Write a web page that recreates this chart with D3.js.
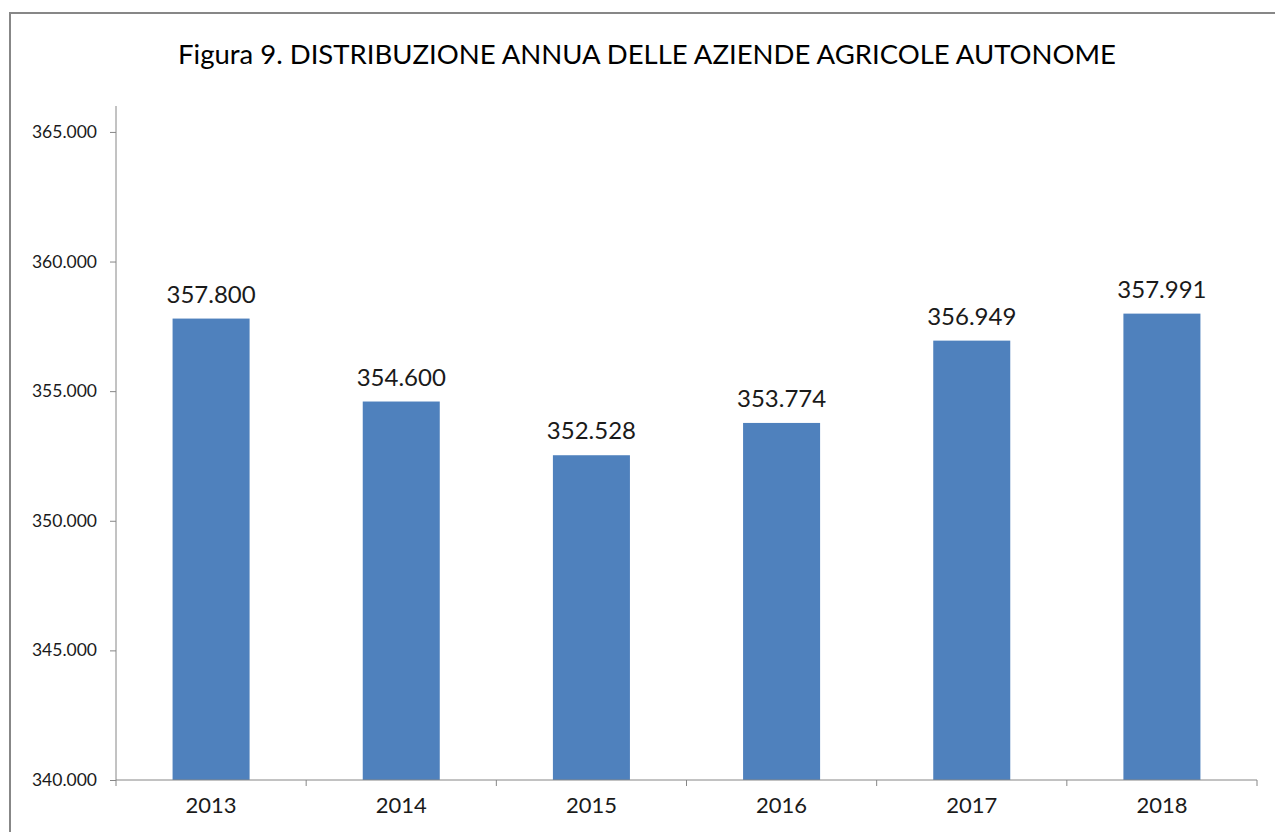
<!DOCTYPE html>
<html>
<head>
<meta charset="utf-8">
<script src="https://cdn.jsdelivr.net/npm/d3@7"></script>
<style>
  body { margin: 0; background: #fff; }
  svg { display: block; font-family: Lato, "Open Sans", sans-serif; }
</style>
</head>
<body>
<div id="vis-container"></div>
<script>
// data
var years  = ["2013", "2014", "2015", "2016", "2017", "2018"];
var values = [357800, 354600, 352528, 353774, 356949, 357991];
var yTicks = [340000, 345000, 350000, 355000, 360000, 365000];

var W = 1275, H = 832;
var margin = { top: 106, right: 18, bottom: 52, left: 116 };
var width  = W - margin.left - margin.right;
var height = H - margin.top - margin.bottom;

var fmt = function(d) { return d3.format(",.0f")(d).replace(/,/g, "."); };

var svg = d3.select("#vis-container")
  .append("svg")
    .attr("width", W)
    .attr("height", H);

// outer chart frame
svg.append("rect")
  .attr("x", 10).attr("y", 13)
  .attr("width", W + 20).attr("height", H + 20)
  .attr("fill", "none")
  .attr("stroke", "#878787")
  .attr("stroke-width", 2);

svg.append("text")
  .attr("x", 647).attr("y", 64)
  .attr("text-anchor", "middle")
  .style("font-size", "27.5px")
  .style("fill", "#000")
  .text("Figura 9. DISTRIBUZIONE ANNUA DELLE AZIENDE AGRICOLE AUTONOME");

var canvas = svg.append("g")
  .attr("transform", "translate(" + margin.left + "," + margin.top + ")");

var xScale = d3.scaleBand()
  .domain(years)
  .range([0, width])
  .paddingInner(0.595)
  .paddingOuter(0.2975);

var yScale = d3.scaleLinear()
  .domain([340000, 366000])
  .range([height, 0]);

// bars
canvas.selectAll(".bar")
  .data(values)
  .enter().append("rect")
    .attr("class", "bar")
    .attr("x", function(d, i) { return xScale(years[i]); })
    .attr("y", function(d) { return yScale(d); })
    .attr("width", xScale.bandwidth())
    .attr("height", function(d) { return height - yScale(d); })
    .style("fill", "#4F81BD");

// value labels
canvas.selectAll(".lbl")
  .data(values)
  .enter().append("text")
    .attr("class", "lbl")
    .attr("x", function(d, i) { return xScale(years[i]) + xScale.bandwidth() / 2; })
    .attr("y", function(d) { return yScale(d) - 16; })
    .attr("text-anchor", "middle")
    .style("font-size", "24px")
    .style("fill", "#1a1a1a")
    .text(fmt);

// y axis
var yAxis = d3.axisLeft(yScale)
  .tickValues(yTicks)
  .tickSize(6)
  .tickPadding(13)
  .tickFormat(fmt);
var gy = canvas.append("g").attr("class", "y axis").call(yAxis);
gy.select(".domain").attr("stroke", "#868686").attr("d", "M0," + height + "V0");
gy.selectAll(".tick line").attr("stroke", "#868686");
gy.selectAll(".tick text").style("font-size", "17.5px").style("fill", "#1a1a1a")
  .style("font-family", "Lato, sans-serif");

// x axis with ticks at category boundaries
var gx = canvas.append("g")
  .attr("class", "x axis")
  .attr("transform", "translate(0," + height + ")")
  .call(d3.axisBottom(xScale).tickSize(0).tickPadding(17));
gx.select(".domain").attr("stroke", "#868686").attr("d", "M0,0H" + width);
gx.selectAll(".tick text").style("font-size", "22px").style("fill", "#1a1a1a")
  .style("font-family", "Lato, sans-serif");
var step = xScale.step();
var bounds = d3.range(years.length + 1).map(function(i) { return xScale(years[0]) - xScale.paddingOuter() * step + i * step; });
gx.selectAll(".bound")
  .data(bounds)
  .enter().append("line")
    .attr("class", "bound")
    .attr("x1", function(d) { return d; })
    .attr("x2", function(d) { return d; })
    .attr("y1", 0).attr("y2", 6)
    .attr("stroke", "#868686");
</script>
</body>
</html>
